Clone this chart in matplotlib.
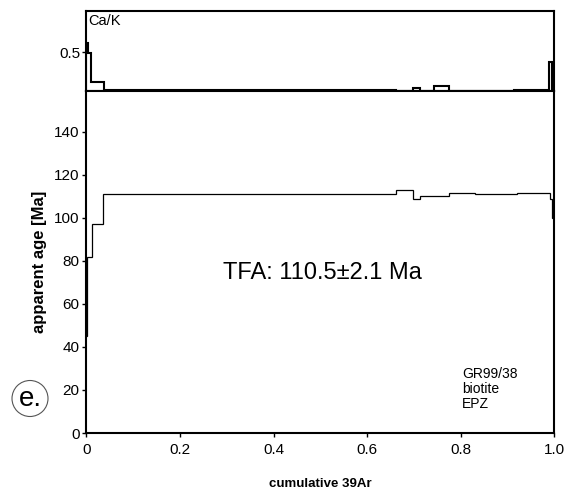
import matplotlib.pyplot as plt
from matplotlib.patches import Circle
from matplotlib.transforms import IdentityTransform

plt.rcParams['font.family'] = ['Liberation Sans', 'DejaVu Sans']

# Ca/K step spectrum (cumulative 39Ar edges, ratio per step)
ca_edges = [0, 0.003, 0.009, 0.038, 0.662, 0.698, 0.713, 0.743, 0.775, 0.914, 0.988, 0.995, 1.0]
ca_vals = [0.62, 0.49, 0.12, 0.012, 0.0, 0.045, 0.0, 0.065, 0.0, 0.01, 0.37, 0.0]

# apparent age spectrum
age_edges = [0, 0.002, 0.0115, 0.036, 0.662, 0.698, 0.713, 0.775, 0.83, 0.92, 0.99, 0.996, 1.0]
age_vals = [45, 82, 97, 111, 113, 109, 110, 111.6, 111.2, 111.6, 109, 100]

x_ticks = [0, 0.2, 0.4, 0.6, 0.8, 1.0]
x_labels = ['0', '0.2', '0.4', '0.6', '0.8', '1.0']
y_ticks = [0, 20, 40, 60, 80, 100, 120, 140]

fig = plt.figure(figsize=(5.68, 4.96), dpi=100)
ax_ca = fig.add_axes([0.152, 0.8165, 0.824, 0.161])
ax = fig.add_axes([0.152, 0.127, 0.824, 0.6895])

# upper panel
ax_ca.stairs(ca_vals, ca_edges, color='black', lw=1.5, baseline=0)
ax_ca.set_xlim(0, 1)
ax_ca.set_ylim(0, 1.03)
ax_ca.set_xticks([])
ax_ca.set_yticks([0.5])
ax_ca.set_yticklabels(['0.5'])
ax_ca.tick_params(axis='y', direction='out', length=3, width=1, labelsize=11, pad=1)
for s in ax_ca.spines.values():
    s.set_linewidth(1.5)
ax_ca.text(0.004, 0.96, 'Ca/K', transform=ax_ca.transAxes, ha='left', va='top', fontsize=10.5)

# main panel
ax.stairs(age_vals, age_edges, color='black', lw=0.9, baseline=None)
ax.set_xlim(0, 1)
ax.set_ylim(0, 159)
ax.set_xticks(x_ticks)
ax.set_xticklabels(x_labels)
ax.set_yticks(y_ticks)
ax.tick_params(direction='out', length=3, width=1, labelsize=11, pad=2)
ax.tick_params(axis='x', pad=4)
for s in ax.spines.values():
    s.set_linewidth(1.5)

ax.set_xlabel('cumulative 39Ar', fontsize=9.5, fontweight='bold', labelpad=15)
ax.set_ylabel('apparent age [Ma]', fontsize=12, fontweight='bold', labelpad=5)

ax.text(0.504, 74.4, 'TFA: 110.5\u00b12.1 Ma', ha='center', va='center', fontsize=17)
ax.text(0.803, 30.5, 'GR99/38\nbiotite\nEPZ', ha='left', va='top', fontsize=10, linespacing=1.05)

# panel label
fig.add_artist(Circle((30, 496 - 398.5), 18, transform=IdentityTransform(),
                      fill=False, edgecolor='#555555', lw=0.8))
fig.text(30 / 568, 1 - 398.5 / 496, 'e.', ha='center', va='center', fontsize=20)

fig.savefig('out.png', dpi=100)
